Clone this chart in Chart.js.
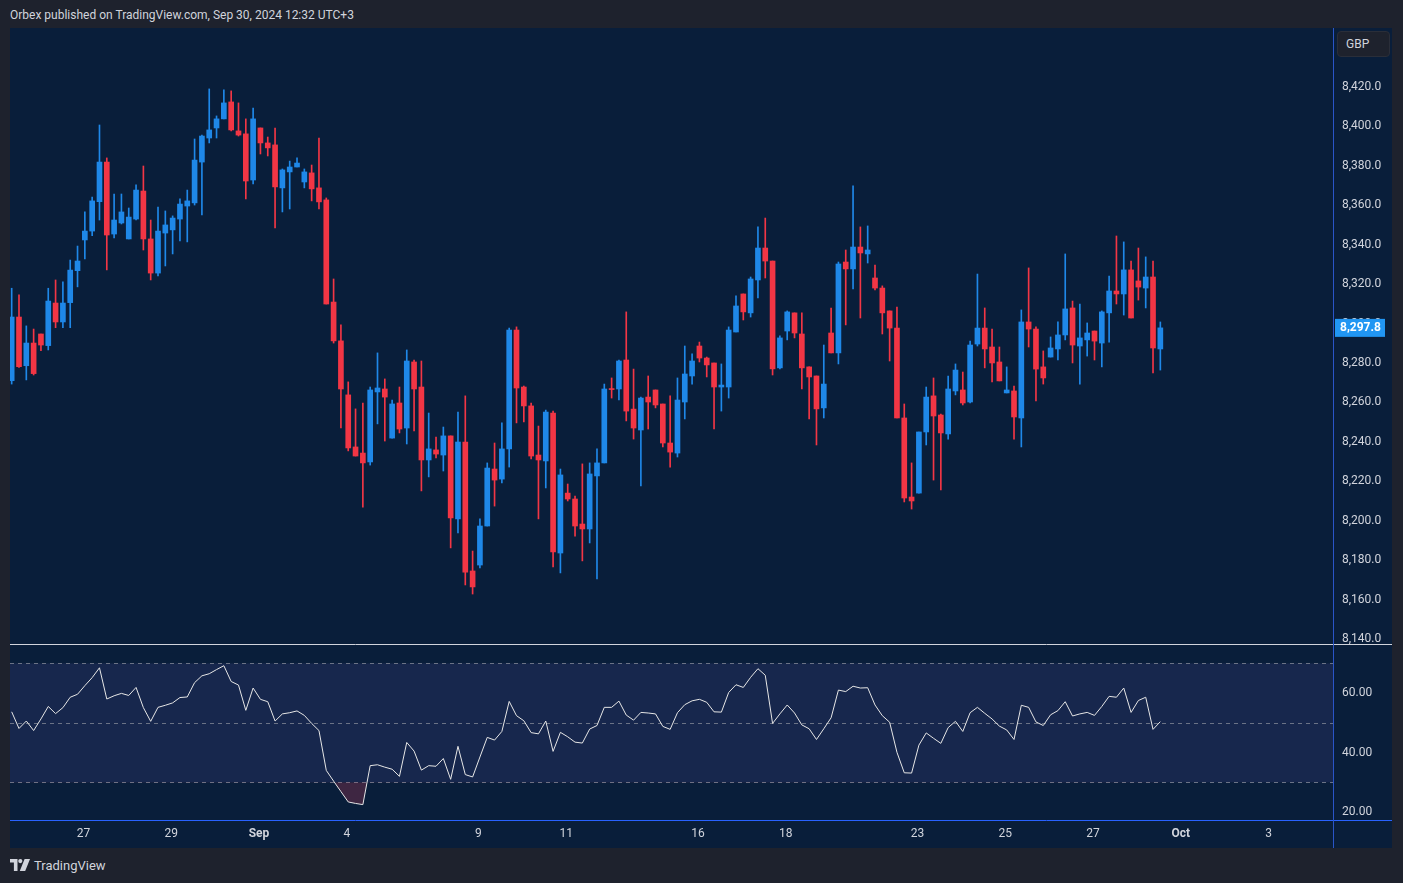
<!DOCTYPE html>
<html><head><meta charset="utf-8">
<script src="https://cdn.jsdelivr.net/npm/chart.js@4.4.1/dist/chart.umd.min.js"></script>
<style>
html,body{margin:0;padding:0;background:#1e222d;width:1403px;height:883px;overflow:hidden;font-family:Roboto,"Noto Sans",sans-serif;}
#hdr{position:absolute;left:10px;top:8px;font-size:12px;color:#d1d4dc;white-space:nowrap;}
#wrap{position:absolute;left:10px;top:28px;width:1382px;height:820px;background:#091e3a;}
#gbp{position:absolute;left:1337px;top:31px;width:43px;height:24px;padding-left:8px;border:1px solid #2a2e39;border-radius:4px;background:#1e222d;color:#d1d4dc;font-size:12px;line-height:24px;text-align:left;box-sizing:content-box;}
#logo{position:absolute;left:10px;top:857px;height:16px;color:#d1d4dc;font-size:13px;display:flex;align-items:center;gap:4px;}
</style></head>
<body>
<div id="hdr">Orbex published on TradingView.com, Sep 30, 2024 12:32 UTC+3</div>
<div id="wrap"><canvas id="c" width="1382" height="820"></canvas></div>
<div id="gbp">GBP</div>
<div id="logo"><svg width="20" height="12" viewBox="0 0 20 12"><path d="M0 0h7.5v12h-3.6v-8.4H0z" fill="#d1d4dc"/><circle cx="10.3" cy="2.1" r="2.1" fill="#d1d4dc"/><path d="M14.6 0H20L15.2 12H9.8z" fill="#d1d4dc"/></svg><span>TradingView</span></div>
<script>
const opens = [8271.0,8303.3,8278.6,8290.1,8294.7,8288.8,8310.4,8300.8,8310.6,8326.8,8342.4,8346.9,8361.8,8381.9,8345.4,8351.0,8342.9,8353.0,8367.2,8342.9,8325.6,8345.9,8347.5,8353.0,8359.6,8361.2,8381.9,8394.1,8399.2,8403.8,8412.4,8397.7,8396.2,8372.8,8399.2,8391.6,8390.6,8368.8,8376.9,8379.4,8371.8,8376.4,8368.8,8362.7,8310.9,8291.2,8263.8,8237.4,8234.3,8229.8,8265.3,8266.8,8241.9,8259.7,8247.0,8280.5,8267.8,8230.8,8235.9,8233.3,8243.0,8200.9,8239.9,8174.5,8177.5,8197.3,8226.2,8221.1,8236.4,8296.7,8267.8,8258.2,8233.3,8230.3,8254.6,8183.6,8214.0,8211.0,8198.3,8195.8,8222.7,8229.3,8266.8,8266.8,8281.5,8256.6,8246.0,8262.7,8266.3,8259.2,8239.4,8234.3,8260.2,8273.4,8288.6,8282.5,8280.0,8267.8,8267.8,8295.7,8315.0,8305.4,8322.1,8338.3,8331.7,8277.5,8296.2,8305.4,8294.7,8278.0,8273.4,8257.2,8295.2,8285.1,8331.2,8327.7,8338.8,8335.3,8323.1,8318.0,8306.4,8297.7,8252.1,8212.0,8214.0,8245.0,8263.3,8253.6,8244.0,8265.8,8266.3,8260.2,8289.6,8297.7,8288.1,8280.5,8264.8,8265.8,8252.1,8300.8,8297.2,8278.0,8283.0,8287.1,8294.2,8307.9,8288.6,8291.7,8296.2,8290.1,8305.4,8316.5,8315.0,8327.2,8321.6,8318.0,8323.6,8287.1];
const highs = [8317.9,8314.5,8298.8,8297.2,8294.7,8317.9,8322.1,8321.1,8332.2,8339.3,8356.6,8364.2,8400.7,8384.0,8365.7,8365.7,8358.6,8370.3,8379.9,8352.5,8359.1,8357.1,8354.6,8363.2,8367.7,8393.6,8395.6,8419.0,8405.3,8418.5,8418.0,8411.9,8403.8,8409.3,8399.2,8394.6,8399.2,8378.4,8382.4,8384.0,8378.4,8380.4,8394.1,8363.7,8322.6,8299.3,8270.4,8256.7,8259.7,8267.8,8285.1,8271.9,8261.2,8267.8,8286.6,8281.5,8281.0,8254.6,8242.4,8247.5,8243.0,8255.1,8263.3,8184.6,8200.9,8229.3,8239.4,8249.6,8297.7,8298.3,8268.3,8259.7,8248.0,8256.1,8255.6,8226.2,8218.6,8212.5,8228.8,8229.3,8236.4,8269.3,8272.4,8281.5,8305.9,8276.9,8262.7,8273.4,8266.3,8259.2,8263.3,8272.4,8288.6,8284.6,8290.6,8283.0,8280.0,8279.5,8298.3,8314.0,8315.0,8323.6,8349.0,8353.5,8331.7,8293.7,8306.4,8305.4,8305.4,8278.0,8273.4,8289.1,8307.9,8331.2,8337.3,8369.8,8349.0,8349.5,8329.7,8319.1,8306.4,8308.4,8259.2,8229.3,8245.0,8267.8,8272.4,8254.1,8273.4,8279.5,8275.4,8291.1,8325.1,8307.9,8297.2,8288.1,8278.0,8268.3,8306.9,8328.2,8298.3,8286.1,8293.2,8300.8,8335.3,8311.4,8309.9,8300.3,8296.2,8306.4,8324.1,8344.4,8341.4,8331.7,8338.3,8333.8,8331.7,8300.8];
const lows = [8269.3,8277.8,8271.4,8273.9,8286.2,8286.6,8297.9,8297.9,8297.9,8318.6,8332.8,8344.6,8352.5,8327.2,8343.4,8350.5,8342.9,8352.5,8337.3,8322.1,8324.1,8329.2,8335.3,8341.9,8341.4,8360.1,8355.1,8391.6,8394.1,8403.8,8397.7,8395.1,8363.2,8370.8,8386.0,8385.0,8348.5,8356.6,8358.1,8379.4,8368.8,8362.2,8358.1,8309.9,8290.1,8247.0,8235.4,8232.8,8206.9,8228.2,8249.1,8240.4,8241.9,8244.5,8238.9,8245.5,8215.1,8222.2,8231.8,8225.2,8186.2,8193.8,8167.4,8162.8,8176.0,8197.3,8207.4,8219.1,8227.2,8249.6,8250.1,8231.3,8200.9,8216.6,8176.5,8173.5,8210.0,8192.2,8179.6,8188.7,8170.4,8229.3,8262.2,8261.2,8250.6,8241.4,8217.6,8246.5,8257.2,8237.4,8227.2,8232.3,8251.6,8269.3,8280.5,8272.9,8246.5,8255.6,8262.2,8295.7,8301.8,8303.3,8313.0,8323.1,8273.9,8277.0,8291.7,8292.7,8266.8,8251.6,8238.4,8252.1,8285.1,8279.5,8299.3,8317.5,8302.8,8330.7,8317.0,8294.7,8281.0,8252.1,8209.5,8205.9,8214.0,8238.4,8220.6,8215.6,8241.4,8263.8,8258.7,8259.7,8288.6,8277.5,8270.4,8270.9,8264.8,8241.4,8237.4,8288.1,8260.7,8269.3,8283.0,8281.5,8291.7,8280.0,8269.3,8283.5,8281.5,8278.0,8290.6,8309.9,8304.3,8302.8,8311.9,8307.9,8274.9,8276.4];
const closes = [8303.3,8278.1,8290.1,8274.6,8289.1,8311.4,8300.8,8310.4,8327.1,8331.7,8346.9,8362.2,8381.9,8344.9,8352.5,8356.6,8354.0,8367.7,8342.9,8325.6,8346.9,8350.0,8353.5,8360.6,8362.2,8382.9,8395.1,8398.2,8403.8,8411.9,8398.2,8395.6,8372.3,8403.8,8391.6,8389.1,8369.3,8377.9,8379.4,8381.4,8376.9,8368.3,8361.7,8309.9,8291.2,8266.8,8236.9,8232.8,8229.3,8266.3,8267.3,8262.7,8259.2,8246.5,8281.0,8266.8,8230.8,8236.4,8233.8,8243.0,8201.4,8239.9,8173.9,8166.4,8197.3,8226.7,8220.6,8236.4,8296.7,8267.3,8258.2,8232.8,8230.8,8255.1,8184.1,8223.2,8211.0,8197.3,8195.8,8223.7,8229.3,8266.8,8266.5,8281.0,8255.6,8247.0,8262.2,8260.2,8258.7,8239.4,8234.8,8261.2,8274.4,8281.0,8282.5,8279.0,8267.8,8268.8,8296.7,8308.9,8305.9,8322.6,8338.3,8331.7,8277.0,8292.7,8305.9,8295.2,8277.5,8272.9,8256.7,8269.3,8285.1,8330.2,8327.7,8338.8,8335.8,8337.3,8318.0,8305.4,8297.7,8252.1,8211.5,8210.0,8245.0,8262.7,8253.1,8244.5,8266.8,8276.4,8259.7,8289.1,8297.7,8287.1,8280.0,8270.9,8266.3,8252.6,8300.8,8297.2,8276.9,8272.4,8287.6,8294.2,8307.4,8289.1,8292.7,8295.2,8291.1,8305.9,8316.5,8315.0,8327.2,8302.8,8318.5,8323.6,8287.6,8297.8];
const rsi = [53.7,48.1,50.6,47.4,51.3,55.5,53.1,55.1,58.6,59.6,62.5,65.2,68.5,58.0,59.1,59.9,59.2,61.9,55.1,50.5,55.2,55.9,56.7,58.5,58.7,63.5,65.8,66.5,67.9,69.2,63.9,62.7,54.2,61.7,57.9,57.1,50.6,53.0,53.4,54.0,52.5,49.8,47.4,34.0,30.4,26.9,23.4,22.9,22.5,35.6,35.9,35.1,34.4,32.0,43.4,40.5,34.1,35.6,35.4,38.0,31.0,42.1,32.6,31.8,38.5,45.1,44.2,47.1,57.2,52.4,50.7,46.7,46.3,50.6,40.4,46.8,45.3,43.5,43.2,47.9,49.1,55.2,55.2,57.3,52.6,50.9,53.5,53.3,53.0,48.8,47.8,53.4,56.1,57.4,57.9,56.9,53.7,53.6,60.2,62.8,61.9,65.3,68.2,66.0,49.8,53.0,56.0,53.3,49.3,48.0,44.4,48.0,51.7,61.0,60.5,62.3,61.7,61.8,56.0,52.4,50.2,40.1,33.2,33.1,42.5,46.6,44.8,43.1,48.4,50.5,47.1,53.4,55.2,53.2,51.3,48.9,47.6,44.4,55.9,55.2,50.3,49.1,52.7,54.1,57.1,52.3,53.0,53.5,52.5,55.5,58.9,58.6,61.7,53.5,57.5,58.6,47.8,50.4];
const xTickPos = [9.8,21.8,33.8,45.8,63.8,75.8,93.8,105.8,123.8,135.8,147.8,159.8,171.8];
const xTickLabels = ['27','29','Sep','4','9','11','16','18','23','25','27','Oct','3'];
const priceTicks = [8140,8160,8180,8200,8220,8240,8260,8280,8300,8320,8340,8360,8380,8400,8420];
const rsiTicks = [20,40,60];
const rsiLevels = [70,50,30];

const UP = '#1f88e8', DOWN = '#f23645';
const col = i => closes[i] >= opens[i] ? UP : DOWN;
const idx = closes.map((_, i) => i);

const bg = {
  id: 'bg',
  beforeDatasetsDraw(chart) {
    const {ctx, chartArea: a, scales} = chart;
    const yr = scales.yr;
    ctx.save();
    ctx.fillStyle = '#17274d';
    const t = yr.getPixelForValue(70), b = yr.getPixelForValue(30);
    ctx.fillRect(a.left, t, a.right - a.left, b - t);
    ctx.strokeStyle = '#6b7386';
    ctx.lineWidth = 1;
    ctx.setLineDash([4, 4]);
    rsiLevels.forEach(v => {
      const y = Math.round(yr.getPixelForValue(v)) + 0.5;
      ctx.beginPath(); ctx.moveTo(a.left, y); ctx.lineTo(a.right, y); ctx.stroke();
    });
    ctx.restore();
  },
  afterDraw(chart) {
    const {ctx, chartArea: a, scales} = chart;
    const yr = scales.yr, yp = scales.y;
    ctx.save();
    ctx.lineWidth = 1;
    ctx.strokeStyle = '#d1d4dc';
    const ys = Math.round(yr.top) + 0.5;
    ctx.beginPath(); ctx.moveTo(a.left, ys); ctx.lineTo(chart.width, ys); ctx.stroke();
    ctx.strokeStyle = '#2962ff';
    const yb = Math.round(a.bottom) + 0.5;
    ctx.beginPath(); ctx.moveTo(a.left, yb); ctx.lineTo(chart.width, yb); ctx.stroke();
    ctx.strokeStyle = '#2a55c8';
    const xr = Math.round(a.right) + 0.5;
    ctx.beginPath(); ctx.moveTo(xr, 0); ctx.lineTo(xr, chart.height); ctx.stroke();
    // last price tag
    const last = closes[closes.length - 1];
    const py = yp.getPixelForValue(last);
    ctx.fillStyle = '#2196f3';
    ctx.fillRect(a.right + 2, py - 9, 50, 18);
    ctx.fillStyle = '#ffffff';
    ctx.font = 'bold 12px Roboto, "Noto Sans", sans-serif';
    ctx.textAlign = 'left';
    ctx.textBaseline = 'middle';
    ctx.fillText(last.toLocaleString('en-US', {minimumFractionDigits: 1, maximumFractionDigits: 1}), a.right + 7, py + 0.5);
    ctx.restore();
  }
};

const tickFont = {family: 'Roboto, "Noto Sans", sans-serif', size: 12};
const noPad = s => { s.paddingTop = 0; s.paddingBottom = 0; s.paddingLeft = 0; s.paddingRight = 0; };

new Chart(document.getElementById('c'), {
  type: 'bar',
  data: {
    datasets: [
      {
        label: 'wick', yAxisID: 'y', grouped: false, barThickness: 1,
        data: idx.map(i => ({x: i, y: [lows[i], highs[i]]})),
        backgroundColor: c => col(c.dataIndex), borderWidth: 0
      },
      {
        label: 'body', yAxisID: 'y', grouped: false, barThickness: 5, minBarLength: 1,
        data: idx.map(i => ({x: i, y: [opens[i], closes[i]]})),
        backgroundColor: c => col(c.dataIndex), borderWidth: 0
      },
      {
        type: 'line', label: 'RSI', yAxisID: 'yr',
        data: idx.map(i => ({x: i, y: rsi[i]})),
        borderColor: '#e6e6e6', borderWidth: 1, pointRadius: 0, tension: 0,
        fill: {target: {value: 30}, above: 'rgba(0,0,0,0)', below: 'rgba(200,60,90,0.28)'}
      }
    ]
  },
  options: {
    animation: false, responsive: false, maintainAspectRatio: false,
    layout: {padding: 0},
    plugins: {legend: {display: false}, tooltip: {enabled: false}},
    scales: {
      x: {
        type: 'linear', min: -0.23, max: 180.6, offset: false,
        grid: {display: false, drawTicks: false}, border: {display: false},
        afterBuildTicks: s => { s.ticks = xTickPos.map(v => ({value: v})); },
        afterFit: s => { s.height = 28; noPad(s); },
        ticks: {
          autoSkip: false, maxRotation: 0, padding: 7, color: '#d1d4dc',
          callback: (v, i) => xTickLabels[i],
          font: c => ({family: tickFont.family, size: 12, weight: (xTickLabels[c.index] === 'Sep' || xTickLabels[c.index] === 'Oct') ? 'bold' : 'normal'})
        }
      },
      y: {
        position: 'right', stack: 'v', stackWeight: 616,
        min: 8137.45, max: 8449.9,
        grid: {display: false, drawTicks: false}, border: {display: false},
        afterBuildTicks: s => { s.ticks = priceTicks.map(v => ({value: v})); },
        afterFit: s => { s.width = 59; noPad(s); },
        ticks: {
          padding: 9, color: '#d1d4dc', font: tickFont,
          callback: v => v.toLocaleString('en-US', {minimumFractionDigits: 1, maximumFractionDigits: 1})
        }
      },
      yr: {
        position: 'right', stack: 'v', stackWeight: 176,
        min: 17.33, max: 76.5,
        grid: {display: false, drawTicks: false}, border: {display: false},
        afterBuildTicks: s => { s.ticks = rsiTicks.map(v => ({value: v})); },
        afterFit: s => { s.width = 59; noPad(s); },
        ticks: {
          padding: 9, color: '#d1d4dc', font: tickFont,
          callback: v => v.toFixed(2)
        }
      }
    }
  },
  plugins: [bg]
});
</script>
</body></html>
